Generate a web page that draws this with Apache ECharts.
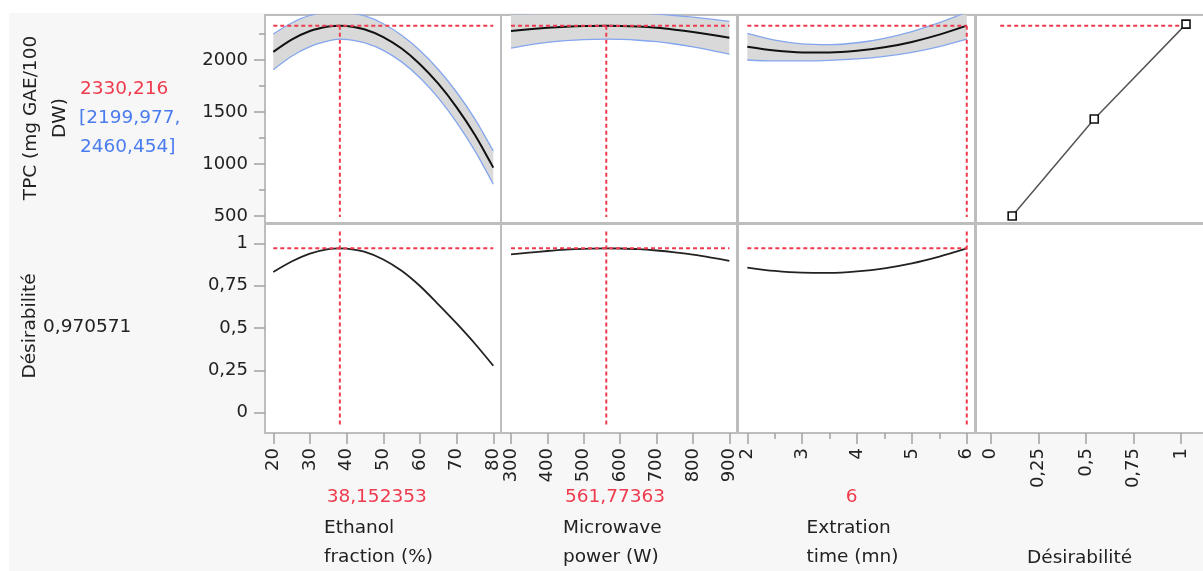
<!DOCTYPE html>
<html><head><meta charset="utf-8">
<script src="https://cdn.jsdelivr.net/npm/echarts@6/dist/echarts.min.js"></script>
<style>html,body{margin:0;padding:0;background:#fff}#c{width:1203px;height:571px}</style>
</head><body><div id="c"></div>
<script>
// ---------------- data ----------------
const ethanolX        = [20, 25, 30, 35, 38.152353, 40, 45, 50, 55, 60, 65, 70, 75, 80];
const tpcEthanol      = [2078, 2196, 2279, 2322, 2330.2, 2327, 2294, 2221, 2110, 1960, 1772, 1545, 1279, 965];
const tpcEthanolUpper = [2250, 2356, 2429, 2460, 2460, 2457, 2424, 2349, 2238, 2091, 1909, 1690, 1432, 1125];
const tpcEthanolLower = [1906, 2036, 2129, 2184, 2200, 2197, 2164, 2093, 1982, 1829, 1635, 1400, 1126, 805];
const desEthanol      = [0.831, 0.893, 0.940, 0.966, 0.9706, 0.969, 0.950, 0.905, 0.838, 0.748, 0.640, 0.527, 0.407, 0.277];

const powerX          = [300, 350, 400, 450, 500, 561.77363, 600, 650, 700, 750, 800, 850, 900];
const tpcPower        = [2280, 2296, 2309, 2319, 2326, 2330.2, 2328, 2321, 2309, 2291, 2269, 2243, 2214];
const tpcPowerUpper   = [2445, 2446, 2449, 2452, 2456, 2460, 2458, 2452, 2442, 2428, 2412, 2393, 2372];
const tpcPowerLower   = [2115, 2146, 2169, 2186, 2196, 2200, 2198, 2190, 2176, 2154, 2126, 2093, 2056];
const desPower        = [0.935, 0.945, 0.955, 0.963, 0.968, 0.9706, 0.9697, 0.966, 0.958, 0.947, 0.933, 0.916, 0.897];

const timeX           = [2, 2.5, 3, 3.5, 4, 4.5, 5, 5.5, 6];
const tpcTime         = [2128, 2091, 2073, 2072, 2088, 2122, 2174, 2244, 2330.2];
const tpcTimeUpper    = [2256, 2191, 2155, 2148, 2166, 2209, 2274, 2359, 2460];
const tpcTimeLower    = [2000, 1991, 1991, 1996, 2010, 2035, 2074, 2129, 2200];
const desTime         = [0.857, 0.837, 0.827, 0.826, 0.835, 0.853, 0.882, 0.922, 0.9706];

const desFnD          = [0.113, 0.544, 1.026];
const desFnTPC        = [500, 1432, 2345];

const currentX        = [38.152353, 561.77363, 6];
const predTPC         = 2330.216;
const ciTPC           = [2199.977, 2460.454];
const desValue        = 0.970571;

const factorNames     = [['Ethanol', 'fraction (%)'], ['Microwave', 'power (W)'], ['Extration', 'time (mn)'], ['Désirabilité']];
const yNames          = [['TPC (mg GAE/100', 'DW)'], ['Désirabilité']];

const xTicks          = [[20, 30, 40, 50, 60, 70, 80], [300, 400, 500, 600, 700, 800, 900], [2, 3, 4, 5, 6], [0, 0.25, 0.5, 0.75, 1]];
const timeMinorTicks  = [2.5, 3.5, 4.5, 5.5];
const tpcTicks        = [500, 1000, 1500, 2000];
const tpcMinorTicks   = [750, 1250, 1750, 2250];
const desTicks        = [0, 0.25, 0.5, 0.75, 1];

// ---------------- layout / style ----------------
const FONT = 'DejaVu Sans';
const RED = '#ef3b4e', BLUE = '#4a7cf0', BAND_EDGE = '#84a6ee', BAND = '#d9d9d9', TXT = '#222';
const SMOOTH = 0.3;
const cols = [{left: 265, width: 236}, {left: 501, width: 236}, {left: 738, width: 237}, {left: 976, width: 230}];
const rows = [{top: 15, height: 208}, {top: 224, height: 209}];
const xRanges = [[17.74, 82.1], [272.5, 921], [1.83, 6.15], [-0.077, 1.131]];
const yRanges = [[432.7, 2432.7], [-0.1205, 1.1146]];
const fmt = v => String(v).replace('.', ',');
const pairs = (xs, ys) => xs.map((x, i) => [x, ys[i]]);

const grids = [], xAxes = [], yAxes = [], series = [];
const tickStyle = {color: '#a2a2a2', width: 1.5};
for (let r = 0; r < 2; r++) for (let c = 0; c < 4; c++) {
  const gi = r * 4 + c;
  grids.push({left: cols[c].left, top: rows[r].top, width: cols[c].width, height: rows[r].height,
    show: true, backgroundColor: '#fff', borderColor: '#bdbdbd', borderWidth: 2, containLabel: false, outerBoundsMode: 'none'});
  xAxes.push({type: 'value', gridIndex: gi, position: 'bottom', min: xRanges[c][0], max: xRanges[c][1],
    axisLine: {show: false, onZero: false}, splitLine: {show: false},
    axisTick: {show: r === 1, customValues: xTicks[c], length: 11, lineStyle: tickStyle},
    axisLabel: {show: r === 1, customValues: xTicks[c], rotate: 90, margin: 15, formatter: fmt,
      fontFamily: FONT, fontSize: 18, color: TXT}});
  const yT = r === 0 ? tpcTicks : desTicks;
  yAxes.push({type: 'value', gridIndex: gi, position: 'left', min: yRanges[r][0], max: yRanges[r][1],
    axisLine: {show: false, onZero: false}, splitLine: {show: false},
    axisTick: {show: c === 0, customValues: yT, length: 11, lineStyle: tickStyle},
    axisLabel: {show: c === 0, customValues: yT, margin: 17, formatter: fmt, fontFamily: FONT, fontSize: 18, color: TXT}});
}
// minor ticks
xAxes.push({type: 'value', gridIndex: 6, position: 'bottom', min: xRanges[2][0], max: xRanges[2][1],
  axisLine: {show: false, onZero: false}, splitLine: {show: false}, axisLabel: {show: false},
  axisTick: {show: true, customValues: timeMinorTicks, length: 6, lineStyle: tickStyle}});
yAxes.push({type: 'value', gridIndex: 0, position: 'left', min: yRanges[0][0], max: yRanges[0][1],
  axisLine: {show: false, onZero: false}, splitLine: {show: false}, axisLabel: {show: false},
  axisTick: {show: true, customValues: tpcMinorTicks, length: 6, lineStyle: tickStyle}});

const dash = {color: RED, width: 2, type: [4, 3]};
function refLine(gi, pts) {
  series.push({type: 'line', xAxisIndex: gi, yAxisIndex: gi, data: pts, symbol: 'none', silent: true,
    lineStyle: dash, z: 10});
}
function band(gi, xs, lo, up) {
  series.push({type: 'custom', xAxisIndex: gi, yAxisIndex: gi, clip: true, silent: true, z: 1,
    data: pairs(xs, lo), encode: {x: 0, y: 1},
    renderItem: (params, api) => {
      if (params.dataIndex !== 0) return null;
      const pts = [];
      for (let i = 0; i < xs.length; i++) pts.push(api.coord([xs[i], up[i]]));
      for (let i = xs.length - 1; i >= 0; i--) pts.push(api.coord([xs[i], lo[i]]));
      const cs = params.coordSys;
      return {type: 'polygon', shape: {points: pts}, style: {fill: BAND},
        clipPath: {type: 'rect', shape: {x: cs.x, y: cs.y, width: cs.width, height: cs.height}}};
    }});
  [lo, up].forEach(ys => series.push({type: 'line', xAxisIndex: gi, yAxisIndex: gi, symbol: 'none', silent: true,
    smooth: SMOOTH, data: pairs(xs, ys), lineStyle: {color: BAND_EDGE, width: 1.3}, z: 2}));
}
const panelX = [ethanolX, powerX, timeX];
const panelTPC = [tpcEthanol, tpcPower, tpcTime];
const panelUp = [tpcEthanolUpper, tpcPowerUpper, tpcTimeUpper];
const panelLo = [tpcEthanolLower, tpcPowerLower, tpcTimeLower];
const panelDes = [desEthanol, desPower, desTime];

for (let c = 0; c < 3; c++) {
  const xs = panelX[c];
  band(c, xs, panelLo[c], panelUp[c]);
  series.push({type: 'line', xAxisIndex: c, yAxisIndex: c, symbol: 'none', silent: true, smooth: SMOOTH,
    data: pairs(xs, panelTPC[c]), lineStyle: {color: '#111', width: 2}, z: 5});
  refLine(c, [[xs[0], predTPC], [xs[xs.length - 1], predTPC]]);
  refLine(c, [[currentX[c], predTPC], [currentX[c], 490]]);
  const g2 = 4 + c;
  series.push({type: 'line', xAxisIndex: g2, yAxisIndex: g2, symbol: 'none', silent: true, smooth: SMOOTH,
    data: pairs(xs, panelDes[c]), lineStyle: {color: '#222', width: 1.8}, z: 5});
  refLine(g2, [[xs[0], desValue], [xs[xs.length - 1], desValue]]);
  refLine(g2, [[currentX[c], 1.07], [currentX[c], -0.08]]);
}
refLine(3, [[0.05, predTPC], [desFnD[2], predTPC]]);
series.push({type: 'line', xAxisIndex: 3, yAxisIndex: 3, data: pairs(desFnD, desFnTPC),
  symbol: 'rect', symbolSize: 8, lineStyle: {color: '#555', width: 1.5},
  itemStyle: {color: '#fff', borderColor: '#111', borderWidth: 1.6}, z: 12});

// ---------------- texts ----------------
const font = (s) => s + 'px "' + FONT + '"';
const graphics = [
  {type: 'rect', shape: {x: 0, y: 0, width: 1203, height: 13}, style: {fill: '#fff'}, silent: true},
  {type: 'rect', shape: {x: 0, y: 0, width: 9, height: 571}, style: {fill: '#fff'}, silent: true}
];
function txt(t, x, y, color, align, rot, size) {
  graphics.push({type: 'text', x: x, y: y, rotation: rot || 0, silent: true,
    style: {text: t, fill: color, font: font(size || 18.5), textAlign: align, textVerticalAlign: 'middle'}});
}
txt(yNames[0][0], 31, 118, TXT, 'center', Math.PI / 2);
txt(yNames[0][1], 60, 118, TXT, 'center', Math.PI / 2);
txt(fmt(predTPC), 80, 89, RED, 'left');
txt('[' + fmt(ciTPC[0]) + ',', 79, 118, BLUE, 'left');
txt(fmt(ciTPC[1]) + ']', 80, 147, BLUE, 'left');
txt(yNames[1][0], 30, 326, TXT, 'center', Math.PI / 2);
txt(fmt(desValue), 43, 327, TXT, 'left');

const valCenters = [376.7, 615, 851.7];
const nameLefts = [324, 563, 806.5, 1027];
for (let c = 0; c < 3; c++) {
  txt(fmt(currentX[c]), valCenters[c], 497, RED, 'center');
  txt(factorNames[c][0], nameLefts[c], 528.5, TXT, 'left');
  txt(factorNames[c][1], nameLefts[c], 557, TXT, 'left');
}
txt(factorNames[3][0], nameLefts[3], 558, TXT, 'left');

const chart = echarts.init(document.getElementById('c'), null, {renderer: 'canvas'});
chart.setOption({
  backgroundColor: '#f7f7f7',
  animation: false,
  grid: grids, xAxis: xAxes, yAxis: yAxes, series: series,
  graphic: graphics
});
</script></body></html>
